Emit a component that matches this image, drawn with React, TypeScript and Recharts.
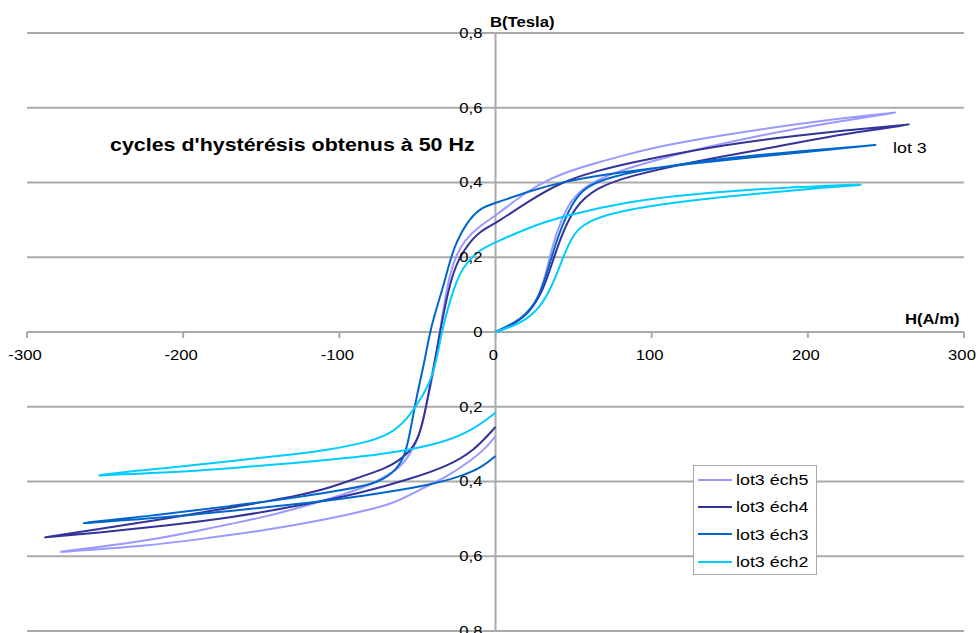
import React from 'react';
import { LineChart, Line, XAxis, YAxis, ReferenceLine, ReferenceDot } from 'recharts';

type Pt = [number, number];

const xTicks = [-300, -200, -100, 0, 100, 200, 300];
const yTicks = [0.8, 0.6, 0.4, 0.2, 0, -0.2, -0.4, -0.6, -0.8];

const seriesNames = ['lot3 éch5', 'lot3 éch4', 'lot3 éch3', 'lot3 éch2'];
const seriesColors = ['#9999FF', '#333399', '#0066CC', '#00CCFF'];

// lot3 éch5
const ech5Initial: Pt[] = [[0, 0], [10, 0.015], [20, 0.045], [27, 0.085], [32, 0.15], [36, 0.225], [42, 0.3], [48, 0.35], [57, 0.39], [75, 0.426], [100, 0.457], [128, 0.488], [171, 0.528], [213, 0.559], [258, 0.588]];
const ech5Desc: Pt[] = [[258, 0.588], [213, 0.568], [171, 0.543], [128, 0.515], [100, 0.492], [85, 0.476], [64, 0.452], [43, 0.426], [21, 0.381], [0, 0.31], [-10, 0.285], [-20, 0.245], [-25, 0.207], [-29, 0.158], [-32, 0.096], [-35.5, 0.007], [-38.7, -0.09], [-43, -0.17], [-47, -0.25], [-51, -0.3], [-56, -0.335], [-62, -0.365], [-68, -0.38], [-78, -0.405], [-95, -0.432], [-117, -0.46], [-149, -0.497], [-191, -0.532], [-224, -0.56], [-281, -0.589]];
const ech5Asc: Pt[] = [[-281, -0.589], [-224, -0.573], [-191, -0.555], [-149, -0.532], [-106, -0.5], [-80, -0.475], [-63, -0.455], [-48, -0.42], [-32, -0.39], [-16, -0.345], [-6, -0.31], [0, -0.279]];

// lot3 éch4
const ech4Initial: Pt[] = [[0, 0], [12.8, 0.024], [21.3, 0.051], [30, 0.105], [36.3, 0.185], [42.7, 0.265], [51, 0.336], [64, 0.385], [85, 0.417], [128, 0.457], [171, 0.488], [213, 0.524], [267, 0.556]];
const ech4Desc: Pt[] = [[267, 0.556], [213, 0.535], [171, 0.515], [128, 0.488], [85, 0.452], [64, 0.43], [43, 0.403], [21, 0.35], [0, 0.29], [-10, 0.27], [-18.5, 0.23], [-24.8, 0.185], [-29, 0.131], [-32.3, 0.069], [-35.5, 0], [-38.7, -0.073], [-42, -0.145], [-46, -0.234], [-50, -0.29], [-55, -0.32], [-62, -0.345], [-72, -0.368], [-85, -0.385], [-106, -0.417], [-127, -0.439], [-170, -0.47], [-213, -0.501], [-255, -0.528], [-290, -0.55]];
const ech4Asc: Pt[] = [[-290, -0.55], [-255, -0.537], [-213, -0.519], [-170, -0.497], [-127, -0.466], [-85, -0.43], [-52, -0.39], [-31, -0.359], [-14, -0.319], [0, -0.254]];

// lot3 éch3
const ech3Initial: Pt[] = [[0, 0], [17, 0.033], [27.7, 0.087], [34.2, 0.176], [40.6, 0.265], [49, 0.345], [57.6, 0.39], [74.7, 0.417], [107, 0.443], [149, 0.466], [192, 0.483], [245, 0.501]];
const ech3Desc: Pt[] = [[245, 0.501], [213, 0.488], [171, 0.47], [128, 0.452], [85, 0.43], [43, 0.403], [21, 0.376], [0, 0.345], [-10, 0.332], [-18.5, 0.292], [-24.8, 0.243], [-29, 0.194], [-33.4, 0.122], [-38.7, 0.051], [-42, 0], [-46, -0.091], [-50.5, -0.171], [-54.7, -0.27], [-58, -0.33], [-63, -0.367], [-74, -0.403], [-95, -0.421], [-127, -0.443], [-170, -0.466], [-213, -0.488], [-266, -0.512]];
const ech3Asc: Pt[] = [[-266, -0.512], [-213, -0.497], [-170, -0.479], [-127, -0.461], [-85, -0.439], [-42, -0.41], [-21, -0.385], [-8, -0.36], [0, -0.332]];

// lot3 éch2
const ech2Initial: Pt[] = [[0, 0], [17, 0.024], [27.7, 0.06], [36.3, 0.122], [42.7, 0.194], [49, 0.256], [55.5, 0.287], [70, 0.314], [96, 0.336], [128, 0.354], [171, 0.372], [213, 0.387], [235, 0.394]];
const ech2Desc: Pt[] = [[235, 0.394], [213, 0.392], [171, 0.383], [128, 0.37], [85, 0.35], [43, 0.31], [21, 0.279], [0, 0.24], [-10, 0.221], [-18.5, 0.185], [-22.7, 0.158], [-27, 0.113], [-31.3, 0.051], [-34.4, 0], [-37.6, -0.073], [-42, -0.136], [-48, -0.18], [-57, -0.236], [-67.6, -0.274], [-85, -0.298], [-106, -0.314], [-127, -0.327], [-170, -0.345], [-213, -0.366], [-234, -0.372], [-255, -0.384]];
const ech2Asc: Pt[] = [[-255, -0.384], [-213, -0.377], [-170, -0.365], [-127, -0.35], [-85, -0.334], [-52.6, -0.314], [-31, -0.292], [-14, -0.261], [0, -0.216]];

const toRows = (...branches: Pt[][]) =>
  branches.flat().map(([h, b]) => ({ h, b }));

const seriesData = [
  toRows(ech5Initial, ech5Desc, ech5Asc),
  toRows(ech4Initial, ech4Desc, ech4Asc),
  toRows(ech3Initial, ech3Desc, ech3Asc),
  toRows(ech2Initial, ech2Desc, ech2Asc),
];

const FONT = '"Liberation Sans", Arial, sans-serif';
const GRID = '#AAAAAA';
const SX = 1.19;

const yLabel = (v: number) => (v === 0 ? '0' : Math.abs(v).toFixed(1).replace('.', ','));

const makeXTick = (t: number) => (props: any) => {
  const { cx, cy } = props;
  return (
    <g>
      <line x1={cx} y1={cy} x2={cx} y2={cy + 6} stroke={GRID} strokeWidth={2} />
      <text
        transform={`translate(${cx - 2},${cy + 23}) scale(${SX},1)`}
        textAnchor="middle"
        dy="0.35em"
        fontFamily={FONT}
        fontSize={14}
        fill="#000"
      >
        {String(t)}
      </text>
    </g>
  );
};

const makeYTick = (v: number) => (props: any) => {
  const { cx, cy } = props;
  return (
    <text
      transform={`translate(${cx - 13},${cy}) scale(${SX},1)`}
      textAnchor="end"
      dy="0.35em"
      fontFamily={FONT}
      fontSize={14}
      fill="#000"
    >
      {yLabel(v)}
    </text>
  );
};

const LegendBox = () => (
  <div
    style={{
      position: 'absolute',
      left: 693,
      top: 465,
      width: 122,
      height: 108,
      border: '1px solid #A8A8A8',
      background: '#fff',
      fontFamily: FONT,
    }}
  >
    {seriesNames.map((name, i) => (
      <div key={name} style={{ height: 27.3, display: 'flex', alignItems: 'center' }}>
        <svg width={40} height={10} style={{ display: 'block' }}>
          <line x1={4} y1={5} x2={38} y2={5} stroke={seriesColors[i]} strokeWidth={2} />
        </svg>
        <span
          style={{
            fontSize: 15,
            color: '#000',
            whiteSpace: 'nowrap',
            display: 'inline-block',
            transform: `scaleX(${SX})`,
            transformOrigin: 'left center',
            marginLeft: 2,
          }}
        >
          {name}
        </span>
      </div>
    ))}
  </div>
);

const overlay = (left: number, top: number, size: number, bold: boolean, text: string) => (
  <div
    style={{
      position: 'absolute',
      left,
      top,
      fontFamily: FONT,
      fontSize: size,
      lineHeight: `${size}px`,
      fontWeight: bold ? 'bold' : 'normal',
      whiteSpace: 'nowrap',
      transform: `scaleX(${SX})`,
      transformOrigin: 'left top',
      color: '#000',
      pointerEvents: 'none',
    }}
  >
    {text}
  </div>
);

export default function App() {
  return (
    <div style={{ position: 'absolute', left: 0, top: 0, width: 978, height: 633, background: '#fff' }}>
      <LineChart width={978} height={633} margin={{ top: 33, right: 14, bottom: 2, left: 27 }}>
        <XAxis type="number" dataKey="h" domain={[-300, 300]} ticks={xTicks} hide allowDataOverflow />
        <YAxis type="number" dataKey="b" domain={[-0.8, 0.8]} ticks={yTicks} hide allowDataOverflow />
        {yTicks.map((v) => (
          <ReferenceLine key={`g${v}`} y={v} stroke={GRID} strokeWidth={2} />
        ))}
        <ReferenceLine x={0} stroke={GRID} strokeWidth={2} />
        {seriesData.map((d, i) => (
          <Line
            key={seriesNames[i]}
            data={d}
            dataKey="b"
            name={seriesNames[i]}
            type="basis"
            stroke={seriesColors[i]}
            strokeWidth={2}
            dot={false}
            activeDot={false}
            isAnimationActive={false}
          />
        ))}
        {xTicks.map((t) => (
          <ReferenceDot key={`xt${t}`} x={t} y={0} r={0} ifOverflow="visible" shape={makeXTick(t)} />
        ))}
        {yTicks.map((v) => (
          <ReferenceDot key={`yt${v}`} x={0} y={v} r={0} ifOverflow="visible" shape={makeYTick(v)} />
        ))}
      </LineChart>
      <LegendBox />
      {overlay(110, 136, 18, true, "cycles d'hystérésis obtenus à 50 Hz")}
      {overlay(490, 15, 14, true, 'B(Tesla)')}
      {overlay(905, 312, 14, true, 'H(A/m)')}
      {overlay(893, 140, 15, false, 'lot 3')}
    </div>
  );
}
